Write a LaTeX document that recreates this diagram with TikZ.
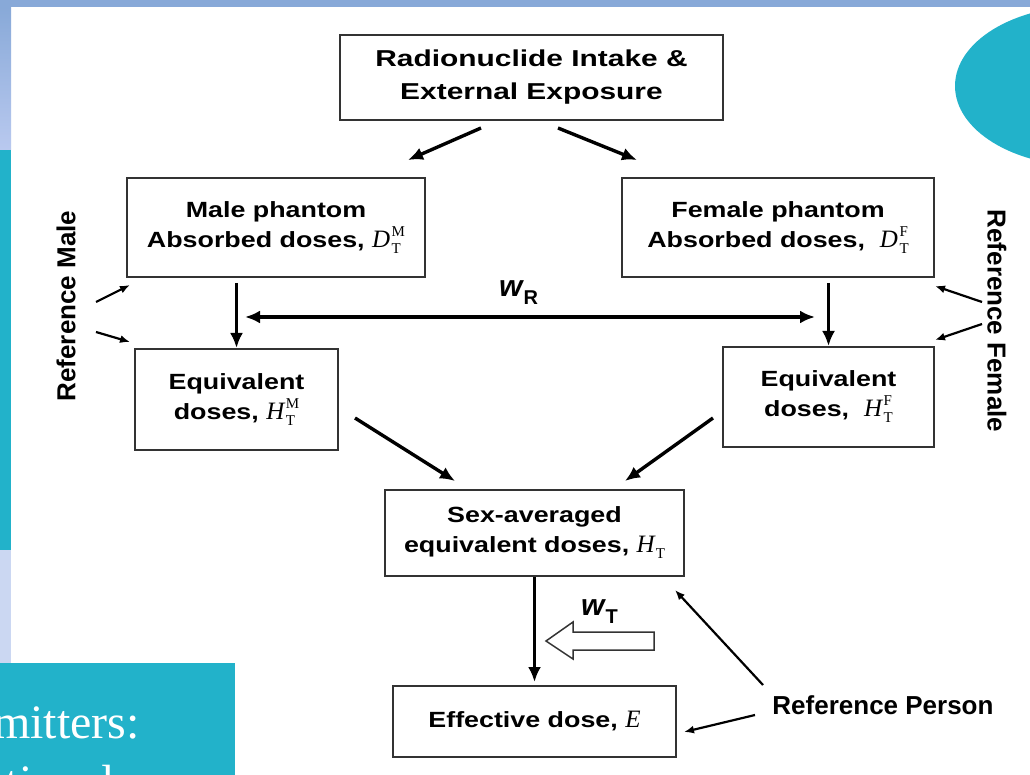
\documentclass[tikz,border=0pt]{standalone}
\usepackage{fontspec}
\setmainfont{Liberation Sans}
\newfontfamily\bxf{Liberation Sans}[FakeStretch=1.22]
\newfontfamily\bxft{Liberation Sans}[FakeStretch=1.3]
\newfontfamily\tmsf{Liberation Serif}
\usetikzlibrary{arrows.meta,calc}
\definecolor{tealc}{HTML}{22B2CA}
\definecolor{topblue}{HTML}{88A9D8}
\definecolor{lightblue}{HTML}{B9C9EF}
\definecolor{lavc}{HTML}{CBD7F2}
\definecolor{boxc}{HTML}{333333}
\newsavebox\supbx
\newsavebox\subbx
\newcommand\dq[3]{{\tmsf\mdseries\fontsize{25}{26}\selectfont\itshape #1\upshape\fontsize{15}{15}\selectfont
  \sbox\supbx{#2}\sbox\subbx{#3}\kern1.5pt\rlap{\raisebox{11pt}{\usebox\supbx}}\raisebox{-6pt}{\usebox\subbx}%
  \ifdim\wd\supbx>\wd\subbx\kern\dimexpr\wd\supbx-\wd\subbx\relax\fi}}
\newcommand\dqs[2]{{\tmsf\mdseries\fontsize{25}{26}\selectfont\itshape #1\upshape\fontsize{15}{15}\selectfont\kern1pt\raisebox{-6pt}{#2}}}
\newcommand\wlab[1]{{\fontsize{30}{30}\selectfont\bfseries\itshape w\kern1pt\raisebox{-8pt}{\fontsize{20}{20}\selectfont\upshape #1}}}
\tikzset{
  box/.style={draw=boxc, line width=2pt, inner sep=0pt, align=center,
    font=\bxf\bfseries\fontsize{22}{30}\selectfont},
  arr/.style={line width=3.4pt, -{Latex[length=15pt,width=13pt]}},
  darr/.style={line width=3.4pt, {Latex[length=15pt,width=13pt]}-{Latex[length=15pt,width=13pt]}},
  rarr/.style={line width=2.2pt, -{Latex[length=10pt,width=8pt]}},
  reflab/.style={font=\bfseries\fontsize{26}{26}\selectfont, inner sep=0pt},
}
\begin{document}
\begin{tikzpicture}[x=1pt,y=-1pt]
\useasboundingbox (0,0) rectangle (1030,775);
% background
\fill[white] (0,0) rectangle (1030,775);
\fill[topblue] (0,0) rectangle (1030,7);
\shade[top color=topblue, bottom color=lightblue] (0,7) rectangle (11,150);
\fill[tealc] (0,150) rectangle (11,550);
\fill[lavc] (0,550) rectangle (11,663);
\fill[tealc] (1085,86) ellipse [x radius=130, y radius=80];
\begin{scope}
\clip (0,663) rectangle (235,775);
\fill[tealc] (0,663) rectangle (235,775);
\node[anchor=base east, text=white, inner sep=0pt, font=\tmsf\fontsize{48}{48}\selectfont] (bl1) at (140,738) {mitters:};
\node[anchor=base east, text=white, inner sep=0pt, font=\tmsf\fontsize{48}{48}\selectfont] (bl2) at (178,798) {tive dose};
\end{scope}
% boxes
\node[box, minimum width=383, minimum height=85, font=\bxft\bfseries\fontsize{23}{33}\selectfont] (top) at (531.5,77.5) {Radionuclide Intake \&\\External Exposure};
\node[box, minimum width=298, minimum height=99] (male) at (276,227.5) {Male phantom\\Absorbed doses, \dq{D}{M}{T}};
\node[box, minimum width=312, minimum height=99] (fem) at (778,227.5) {Female phantom\\Absorbed doses,~ \dq{D}{F}{T}};
\node[box, minimum width=203, minimum height=101] (eqm) at (236.5,399.5) {Equivalent\\doses, \dq{H}{M}{T}};
\node[box, minimum width=211, minimum height=100] (eqf) at (828.5,397) {Equivalent\\doses,~ \dq{H}{F}{T}};
\node[box, minimum width=299, minimum height=86] (sa) at (534.5,533) {Sex-averaged\\equivalent doses, \dqs{H}{T}};
\node[box, minimum width=283, minimum height=71] (eff) at (534.5,721.5) {Effective dose, {\fontsize{25}{26}\selectfont\tmsf\mdseries\itshape E}};
% labels
\node[anchor=base west, inner sep=0pt] (wR) at (499,297) {\wlab{R}};
\node[anchor=base west, inner sep=0pt] (wT) at (581,615) {\wlab{T}};
\node[reflab, rotate=90] (rm) at (66,306) {Reference Male};
\node[reflab, rotate=-90] (rf) at (997,321) {Reference Female};
\node[reflab, anchor=base] (rp) at (883,714) {Reference Person};
% coordinates
\coordinate (t1s) at (481,128); \coordinate (t1e) at (408,160);
\coordinate (t2s) at (558,128); \coordinate (t2e) at (637,160);
\coordinate (wl) at (245,317); \coordinate (wr) at (815,317);
\coordinate (d1s) at (355,418); \coordinate (d1e) at (455,481);
\coordinate (d2s) at (713,418); \coordinate (d2e) at (625,481);
\coordinate (p1s) at (763,685); \coordinate (p1e) at (675,590);
\coordinate (p2s) at (755,715); \coordinate (p2e) at (684,732);
\coordinate (m1s) at (96,302); \coordinate (m1e) at (130,285);
\coordinate (m2s) at (96,332); \coordinate (m2e) at (130,342);
\coordinate (f1s) at (982,302); \coordinate (f1e) at (935,286);
\coordinate (f2s) at (982,324); \coordinate (f2e) at (935,340);
% connectors
\draw[arr] (t1s) -- (t1e);
\draw[arr] (t2s) -- (t2e);
\draw[arr, shorten <=5pt] (male.south -| eqm.north) -- (eqm.north);
\draw[arr, shorten <=5pt] (fem.south -| eqf.north) -- (eqf.north);
\draw[darr] (wl) -- (wr);
\draw[arr] (d1s) -- (d1e);
\draw[arr] (d2s) -- (d2e);
\draw[arr, shorten >=3pt] (sa.south) -- (eff.north);
\draw[rarr] (p1s) -- (p1e);
\draw[rarr] (p2s) -- (p2e);
\draw[rarr] (m1s) -- (m1e);
\draw[rarr] (m2s) -- (m2e);
\draw[rarr] (f1s) -- (f1e);
\draw[rarr] (f2s) -- (f2e);
% hollow block arrow
\draw[line width=1.5pt, draw=boxc, fill=white] (546,641) -- (573,622) -- (573,632) -- (654,632) -- (654,650) -- (573,650) -- (573,659) -- cycle;
\end{tikzpicture}
\end{document}
